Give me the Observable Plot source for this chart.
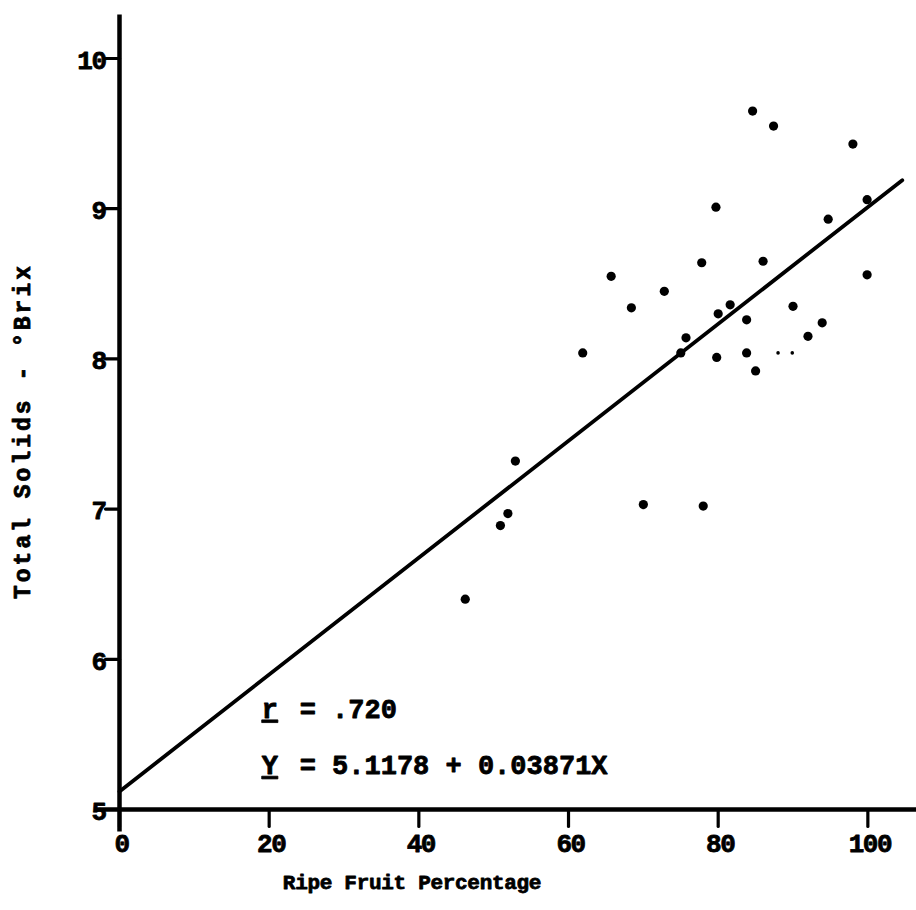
<!DOCTYPE html>
<html>
<head>
<meta charset="utf-8">
<script src="https://cdn.jsdelivr.net/npm/d3@7"></script>
<script src="https://cdn.jsdelivr.net/npm/@observablehq/plot@0.6"></script>
<style>
  html, body { margin: 0; padding: 0; background: #fff; }
  #chart svg { display: block; }
  .ul text { text-decoration: underline; text-decoration-thickness: 3.5px; text-underline-offset: 8px; }
  .ytitle text { letter-spacing: 3px; }
  .xtitle text { letter-spacing: -0.3px; }
  .xlab text { letter-spacing: -1.5px; }
  .ylab text { letter-spacing: -1.5px; }
</style>
</head>
<body>
<div id="chart"></div>
<script>
// ---- data ----
const ripePct = [84.6, 87.4, 98.0, 79.7, 94.7, 99.9, 65.7, 77.8, 86.0, 99.9,
                 72.8, 68.4, 90.0, 81.6, 80.0, 83.8, 93.9, 92.0, 75.7, 61.9,
                 75.0, 79.8, 83.8, 85.0, 52.9, 51.9, 50.9, 70.0, 78.0, 46.2];
const brix    = [9.65, 9.55, 9.43, 9.01, 8.93, 9.06, 8.55, 8.64, 8.65, 8.56,
                 8.45, 8.34, 8.35, 8.36, 8.30, 8.26, 8.24, 8.15, 8.14, 8.04,
                 8.04, 8.01, 8.04, 7.92, 7.32, 6.97, 6.89, 7.03, 7.02, 6.40];
// two faint small dots
const smallPct = [88.0, 89.9];
const smallBrix = [8.04, 8.04];

// fitted line as drawn on the figure
const fitPct = [0, 104.6];
const fitBrix = [5.12, 9.19];

const xTicks = [0, 20, 40, 60, 80, 100];
const yTicks = [5, 6, 7, 8, 9, 10];
const xTitle = "Ripe Fruit Percentage";
const yTitle = "Total Solids - °Brix";
const annLetters = ["r", "Y"];
const annTexts = ["= .720", "= 5.1178 + 0.03871X"];
const annAt = [5.61, 5.235];   // baseline positions of the two annotation lines (°Brix)
const annX = 19.0;             // left edge of the annotation (%)

// ---- build ----
const points = ripePct.map((x, i) => ({x, y: brix[i]}));
const small = smallPct.map((x, i) => ({x, y: smallBrix[i]}));
const fit = fitPct.map((x, i) => ({x, y: fitBrix[i]}));
const annotations = annLetters.map((a, i) => ({x: annX, y: annAt[i], a, b: annTexts[i]}));

const font = "'Liberation Mono', 'Courier New', monospace";
const tickShape = {draw(context, l) { context.moveTo(0, 0); context.lineTo(0, -l); }};
const heavy = {fill: "#000", stroke: "#000", strokeWidth: 0.8, fontWeight: "bold"};

const chart = Plot.plot({
  width: 916,
  height: 910,
  marginLeft: 119,
  marginRight: 0,
  marginTop: 58,
  marginBottom: 101,
  x: {domain: [0, 106.5], axis: null},
  y: {domain: [5, 10], axis: null},
  style: {fontFamily: font, fontWeight: "bold", color: "#000", background: "#fff"},
  marks: [
    // axis lines
    Plot.ruleX([0], {y1: 4.85, y2: 10.29, strokeWidth: 4.5, stroke: "#000"}),
    Plot.ruleY([5], {x1: -3.2, x2: 106.5, strokeWidth: 4.5, stroke: "#000"}),
    // ticks
    Plot.vector(xTicks, {x: d => d, y: 5, length: 17, rotate: 180, anchor: "start", shape: tickShape, stroke: "#000", strokeWidth: 3.2}),
    Plot.vector(yTicks, {x: 0, y: d => d, length: 14, rotate: -90, anchor: "start", shape: tickShape, stroke: "#000", strokeWidth: 3.2}),
    // tick labels
    Plot.text(xTicks, {x: d => d, frameAnchor: "bottom", dx: 2, dy: 24, lineAnchor: "top", text: d => String(d), fontSize: 26, className: "xlab", ...heavy}),
    Plot.text(yTicks, {y: d => d, frameAnchor: "left", dx: -14, dy: 2, textAnchor: "end", text: d => String(d), fontSize: 26, className: "ylab", ...heavy}),
    // regression line and data
    Plot.line(fit, {x: "x", y: "y", stroke: "#000", strokeWidth: 3.8}),
    Plot.dot(points, {x: "x", y: "y", r: 4.6, fill: "#000", stroke: null}),
    Plot.dot(small, {x: "x", y: "y", r: 1.8, fill: "#000", stroke: null}),
    // annotation
    Plot.text(annotations, {x: "x", y: "y", text: "a", textAnchor: "start", lineAnchor: "bottom", fontSize: 27, className: "ul", ...heavy}),
    Plot.text(annotations, {x: "x", y: "y", text: "b", textAnchor: "start", lineAnchor: "bottom", dx: 38, fontSize: 27, ...heavy}),
    // axis titles
    Plot.text([xTitle], {frameAnchor: "bottom", dx: -106, dy: 79, textAnchor: "middle", lineAnchor: "bottom", fontSize: 21, className: "xtitle", ...heavy}),
    Plot.text([yTitle], {frameAnchor: "left", dx: -97, dy: -3, rotate: -90, textAnchor: "middle", fontSize: 23, className: "ytitle", ...heavy})
  ]
});
document.getElementById("chart").append(chart);
</script>
</body>
</html>
